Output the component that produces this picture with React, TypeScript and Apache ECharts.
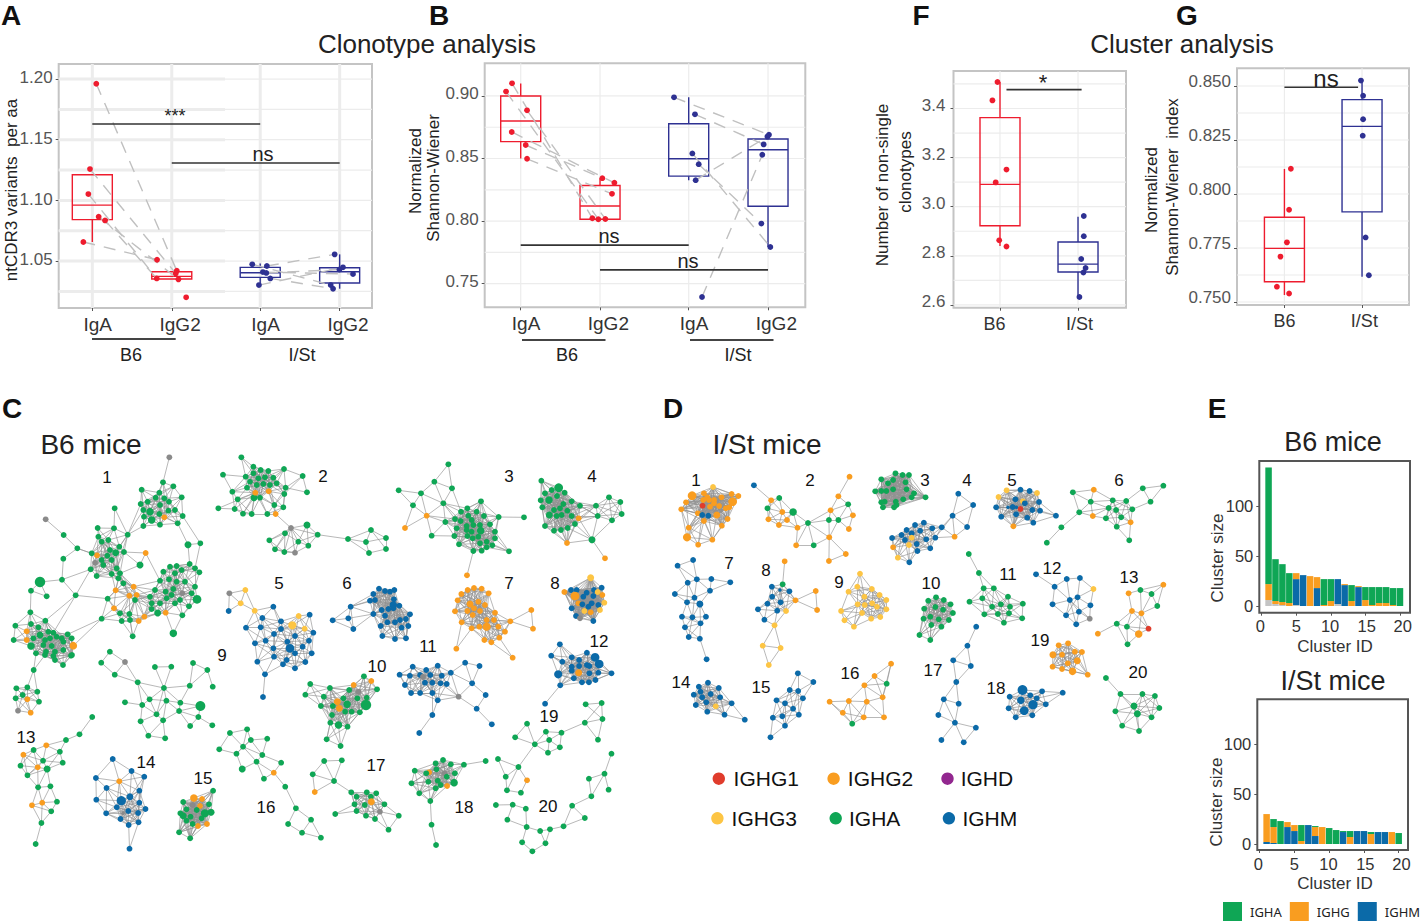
import React, { useEffect, useRef } from "react";
import * as echarts from "echarts";

// ---------- colours ----------
const RED = "#ee1c2e", NAVY = "#2e3192", GREY_DASH = "#c0c0c0", GRIDC = "#ececec";
const COL: Record<string, string> = { a: "#0fa655", o: "#f99d20", y: "#fdc544", m: "#0b6aa8", r: "#e03c2c", x: "#8a8a8a", p: "#92278f" };
const FONT = "Liberation Sans";

// ---------- panel A : ntCDR3 variants per aa ----------
const aXTicks = [1, 2, 3.113, 4.113];
const aXLabelPos = [1.068, 2.105, 3.181, 4.218];
const groupLabels = ["IgA", "IgG2", "IgA", "IgG2"];
const aYTicks = [1.05, 1.1, 1.15, 1.2];
const aYLines = [1.025, 1.05, 1.075, 1.1, 1.125, 1.15, 1.175, 1.2];
const aBoxes = [
  [1, 1.0657, 1.0841, 1.0961, 1.1211, 1.1211],
  [2, 1.0352, 1.0352, 1.0374, 1.0412, 1.0412],
  [3.113, 1.0316, 1.0365, 1.0404, 1.0448, 1.048],
  [4.113, 1.0272, 1.0319, 1.0412, 1.0445, 1.0555],
];
const aB6IgA = [[1.05, 1.1961], [0.971, 1.1258], [0.95, 1.1052], [1.08, 1.0865], [1.16, 1.0835], [0.887, 1.0657]];
const aB6IgG = [[1.815, 1.0511], [2.063, 1.042], [2.05, 1.0398], [1.811, 1.0357], [2.084, 1.0349], [2.181, 1.0201]];
const aIStIgA = [[3.013, 1.0473], [3.197, 1.0459], [3.147, 1.0409], [3.24, 1.0357], [3.097, 1.0302], [3.19, 1.0402]];
const aIStIgG = [[4.05, 1.0555], [4.155, 1.0448], [4.281, 1.0393], [4.0, 1.0302], [4.03, 1.0272], [4.11, 1.043]];
const aPairsB6 = [[0, 1], [1, 2], [2, 3], [3, 4], [4, 3], [5, 0]];
const aPairsISt = [[0, 3], [1, 0], [2, 2], [3, 4], [4, 1], [5, 5]];

// ---------- panel B : normalized Shannon-Wiener (clonotypes) ----------
const bXTicks = [1, 2, 3.118, 4.118];
const bXLabelPos = [1.068, 2.105, 3.186, 4.223];
const bYTicks = [0.75, 0.8, 0.85, 0.9];
const bYLines = [0.75, 0.775, 0.8, 0.825, 0.85, 0.875, 0.9];
const bBoxes = [
  [1, 0.85, 0.8635, 0.88, 0.9, 0.91],
  [2, 0.8015, 0.8015, 0.812, 0.8285, 0.834],
  [3.118, 0.8327, 0.8359, 0.8498, 0.8778, 0.899],
  [4.118, 0.7793, 0.8119, 0.857, 0.8656, 0.869],
];
const bB6IgA = [[0.891, 0.9101], [0.815, 0.9035], [1.08, 0.8885], [0.887, 0.8712], [1.063, 0.8608], [1.08, 0.8498]];
const bB6IgG = [[2.029, 0.8343], [2.181, 0.8306], [2.151, 0.8218], [1.903, 0.8023], [1.979, 0.8015], [2.067, 0.8017]];
const bIStIgA = [[2.933, 0.8989], [3.197, 0.8853], [3.164, 0.8541], [3.244, 0.8455], [3.206, 0.8327], [3.286, 0.7393]];
const bIStIgG = [[4.13, 0.869], [4.11, 0.8675], [4.063, 0.8613], [4.046, 0.853], [4.034, 0.798], [4.147, 0.7793]];
const bPairsB6 = [[0, 3], [1, 4], [2, 5], [3, 1], [4, 0], [5, 2]];
const bPairsISt = [[0, 0], [1, 2], [2, 5], [3, 4], [4, 1], [5, 3]];

// ---------- panel F : number of non-single clonotypes ----------
const fXTicks = [1, 2];
const fXLabelPos = [0.93, 2.02];
const strainLabels = ["B6", "I/St"];
const fYTicks = [2.6, 2.8, 3.0, 3.2, 3.4];
const fYLines = [2.6, 2.7, 2.8, 2.9, 3.0, 3.1, 3.2, 3.3, 3.4, 3.5];
const fBoxes = [[1, 2.84, 2.9226, 3.091, 3.3626, 3.508], [2, 2.633, 2.734, 2.766, 2.856, 2.959]];
const fB6 = [[0.968, 3.508], [0.903, 3.433], [1.083, 3.151], [0.945, 3.099], [0.99, 2.863], [1.083, 2.838]];
const fISt = [[2.074, 2.962], [2.074, 2.88], [2.041, 2.787], [2.097, 2.75], [2.069, 2.732], [2.018, 2.632]];

// ---------- panel G : normalized Shannon-Wiener (clusters) ----------
const gXTicks = [1, 2];
const gXLabelPos = [1, 2.03];
const gYTicks = [0.75, 0.775, 0.8, 0.825, 0.85];
const gYLines = [0.75, 0.7625, 0.775, 0.7875, 0.8, 0.8125, 0.825, 0.8375, 0.85];
const gBoxes = [[1, 0.7532, 0.7594, 0.7748, 0.7892, 0.8116], [2, 0.7617, 0.7917, 0.8313, 0.8437, 0.8525]];
const gB6 = [[1.083, 0.8117], [1.06, 0.7927], [1.032, 0.7776], [0.949, 0.771], [0.903, 0.7571], [1.06, 0.7539]];
const gISt = [[1.986, 0.8525], [2.014, 0.8455], [2.014, 0.8346], [2.009, 0.827], [2.046, 0.7799], [2.088, 0.7624]];

// ---------- panel E : stacked cluster sizes ----------
const clusterIds = [1, 2, 3, 4, 5, 6, 7, 8, 9, 10, 11, 12, 13, 14, 15, 16, 17, 18, 19, 20];
const eXTicks = [0, 5, 10, 15, 20];
const eXLabelPos = [-0.2, 5, 9.9, 15.2, 20.4];
const eYTicks = [0, 50, 100];
const b6Other = [6, 2, 1, 0, 1, 0, 0, 0, 0, 0, 2, 0, 0, 0, 0, 0, 0, 0, 0, 0];
const b6IGHM = [0, 0, 0, 0, 26, 31, 0, 18, 0, 0, 25, 21, 0, 19, 0, 0, 0, 0, 0, 0];
const b6IGHG = [16, 3, 3, 3, 6, 0, 30, 11, 1, 5, 0, 1, 5, 1, 6, 1, 3, 3, 1, 0];
const b6IGHA = [117, 42, 38, 30, 0, 0, 0, 0, 26, 22, 0, 0, 16, 0, 13, 18, 16, 16, 17, 18];
const istIGHM = [2, 1, 0, 17, 13, 0, 19, 8, 0, 0, 0, 12, 0, 13, 13, 0, 12, 12, 0, 0];
const istIGHG = [28, 16, 0, 5, 6, 3, 0, 9, 17, 0, 0, 0, 7, 0, 0, 10, 0, 0, 12, 0];
const istIGHA = [0, 8, 23, 0, 0, 16, 0, 1, 0, 16, 14, 1, 6, 0, 0, 2, 0, 0, 0, 11];

type N = [number, number, string, number?];
// crops: [originX, originY, scaleX, scaleY]
const CROP5 = [0, 390, 3, 3], CROP6 = [330, 440, 3, 3], CROP7 = [0, 650, 2.44, 3], CROP8 = [660, 420, 2.96, 3], CROP9 = [660, 640, 2.96, 3];

const b6c1: N[] = [[508,202,"x"],[137,388,"x"],[489,277,"a"],[425,299,"a"],[520,289,"a"],[478,308,"a"],[545,322,"a"],[443,335,"a"],[467,323,"a"],[493,325,"a"],[422,342,"a"],[507,335,"a"],[480,345,"a"],[430,360,"a"],[450,365,"a",1.3],[505,362,"a"],[525,360,"a"],[548,378,"a"],[455,390,"a",1.3],[478,372,"a"],[432,380,"a"],[493,382,"o"],[430,408,"a"],[480,404,"a"],[533,400,"a"],[344,355,"a"],
[191,435,"a"],[293,414,"a"],[342,415,"a"],[295,440,"a"],[383,434,"a"],[232,475,"a"],[305,455,"a"],[325,450,"a"],[358,470,"a"],[330,480,"a"],[372,486,"a"],[347,488,"a",1.2],[291,496,"o"],[275,490,"a"],[190,506,"a"],[322,497,"a"],[305,510,"a"],[335,510,"a"],[285,518,"x"],[272,538,"a"],[290,558,"a"],[310,525,"a"],[350,535,"a"],[335,552,"a"],[360,550,"a"],[437,489,"o"],[420,525,"a",1.2],
[186,569,"a"],[120,576,"a",1.8],[93,602,"a"],[140,619,"a"],[227,616,"a"],[323,626,"a"],[355,565,"a"],[370,580,"a"],[401,590,"o"],[347,601,"o"],[388,617,"o"],[410,615,"o"],[405,630,"a"],[342,655,"o"],[360,670,"a"],[365,693,"a"],[390,690,"a"],[416,693,"o"],[433,680,"o"],[398,739,"a"],[388,672,"a"],[305,686,"a"],
[564,464,"a",1.2],[601,460,"a"],[569,522,"a"],[530,528,"a"],[510,530,"a"],[490,545,"a"],[545,540,"a"],[585,535,"a"],[598,547,"a"],[525,550,"a"],[507,568,"a"],[480,572,"a"],[530,575,"a"],[555,575,"a"],[585,590,"a"],[520,597,"a"],[497,605,"a"],[465,600,"a"],[515,615,"a"],[500,625,"a"],[450,620,"a"],[575,610,"a"],[547,610,"x"],[591,628,"a",1.5],[455,640,"a"],[480,640,"a"],[525,640,"a"],[567,649,"a"],[540,630,"a"],[455,657,"a"],[473,669,"a",1.2],[497,668,"o"],[547,676,"a"],[520,730,"a",1.3],
[91,667,"a"],[46,707,"a"],[93,702,"a"],[136,692,"a"],[115,712,"a"],[145,725,"a"],[160,728,"a"],[80,724,"o"],[41,750,"a"],[80,750,"o"],[100,745,"a"],[120,735,"a",1.2],[135,750,"a"],[150,745,"a"],[170,740,"a"],[185,745,"a"],[203,733,"a"],[215,745,"a"],[93,768,"a",1.3],[130,765,"a"],[155,768,"a"],[190,755,"a"],[220,767,"o",1.3],[138,785,"a"],[165,785,"a"],[190,780,"a"],[213,797,"a"],[108,790,"a"],[160,798,"a"],[135,795,"a"],[165,810,"a"],[189,825,"a"],[216,795,"a"],
[101,840,"a"],[49,895,"a"],[82,892,"a"],[112,905,"a"],[47,925,"a"],[82,928,"o"],[117,935,"a"],[54,962,"x"],[92,968,"o"],[68,915,"a"]];
const b6c1Bridges = [[508,202,489,277],[137,388,191,435],[191,435,232,475],[232,475,275,490],[190,506,186,569],[186,569,120,576],[186,569,272,538],[120,576,93,602],[120,576,140,619],[93,602,91,667],[227,616,272,538],[227,616,323,626],[227,616,136,692],[323,626,388,617],[305,686,342,655],[305,686,220,767],[305,686,203,733],[342,655,388,617],[344,355,383,434],[383,434,430,360],[383,434,422,342],[372,486,437,489],[437,489,480,572],[420,525,372,486],[564,464,533,400],[601,460,548,378],[564,464,569,522],[601,460,585,535],[450,620,410,615],[465,600,410,615],[398,739,388,672],[520,730,497,668],[520,730,547,676],[383,434,350,535],[430,408,383,434],[91,667,93,702],[342,415,383,434],[293,414,305,455],[360,550,388,617],[335,552,401,590],[350,535,410,615],[388,617,365,693],[405,630,390,690],[405,630,416,693],[410,615,433,680],[405,630,360,670],[480,640,410,615],[497,605,405,630],[480,572,401,590],[136,692,220,767],[91,667,136,692],[227,616,160,728],[272,538,305,510],[272,538,335,510]];
const b6c2: N[] = [[724,202,"a"],[669,254,"a"],[852,237,"a"],[760,230,"a"],[782,240,"a"],[805,243,"a"],[737,260,"a"],[760,250,"a"],[750,275,"a"],[775,265,"a"],[795,262,"a"],[820,263,"a"],[790,282,"a"],[770,285,"a"],[810,285,"a"],[830,280,"a"],[741,293,"a"],[697,305,"a"],[857,293,"a"],[853,312,"a"],[908,258,"a"],[921,307,"a"],[713,328,"a"],[655,355,"a"],[704,357,"a"],[729,371,"a"],[755,372,"a"],[802,372,"a"],[823,345,"a"],[850,352,"a"],[762,323,"a",1.2],[780,323,"a"],[766,308,"o"],[806,304,"o"],[827,372,"o"],[855,430,"a"],[808,451,"a"],[921,405,"a",1.2],[895,455,"a"],[925,467,"a"],[953,434,"a"],[825,478,"a"],[853,486,"a"],[873,414,"x"],[885,488,"x"],[1044,447,"a"],[1113,420,"a"],[1158,444,"a"],[1098,456,"a"],[1158,477,"a"],[1107,489,"a"]];
const b6c2Bridges = [[873,414,827,372],[953,434,1044,447],[853,312,908,258],[857,293,921,307],[873,414,855,430],[873,414,808,451],[873,414,921,405],[873,414,895,455],[873,414,925,467],[873,414,953,434],[873,414,825,478],[873,414,853,486],[873,414,885,488],[855,430,825,478],[855,430,853,486],[855,430,808,451],[766,308,697,305],[766,308,713,328],[766,308,655,355],[766,308,704,357],[766,308,729,371],[766,308,755,372],[766,308,741,293],[766,308,802,372],[766,308,823,345],[806,304,850,352],[806,304,827,372],[1044,447,1113,420],[1044,447,1098,456],[1044,447,1107,489],[1113,420,1158,477],[1098,456,1158,444],[724,202,760,250],[669,254,737,260],[852,237,810,285],[908,258,921,307]];
const b6c3: N[] = [[355,73,"a"],[313,125,"a"],[366,145,"a"],[206,151,"a"],[273,160,"a"],[249,196,"a"],[340,190,"a"],[290,227,"o"],[225,264,"o"],[346,246,"a"],[305,287,"a"],[453,184,"a"],[375,237,"a"],[393,215,"a"],[412,205,"a"],[440,215,"a"],[462,228,"a"],[392,243,"a"],[415,227,"a"],[380,265,"a"],[410,258,"a"],[430,255,"a"],[450,255,"a"],[480,253,"a"],[452,272,"a",1.3],[425,275,"a"],[495,275,"a"],[373,288,"a"],[412,288,"a"],[428,295,"a"],[445,290,"a"],[495,295,"a"],[470,305,"a"],[387,313,"a"],[430,333,"a"],[455,332,"a"],[470,322,"a"],[487,316,"a"],[537,334,"a"],[506,231,"a"],[582,232,"a"],[411,406,"o"],[450,310,"a"],[425,240,"a"],[410,270,"a"]];
const b6c3Bridges = [[355,73,366,145],[313,125,340,190],[366,145,393,215],[206,151,273,160],[273,160,340,190],[249,196,290,227],[273,160,249,196],[340,190,393,215],[290,227,375,237],[290,227,225,264],[346,246,305,287],[346,246,375,237],[506,231,462,228],[506,231,582,232],[430,333,411,406],[537,334,487,316],[537,334,470,305],[453,184,393,215]];
const b6c4: N[] = [[634,122,"a"],[686,143,"a",1.5],[645,160,"a"],[665,150,"a"],[704,158,"a"],[632,181,"a"],[657,180,"a",1.3],[681,168,"a"],[700,192,"a"],[725,184,"a"],[637,202,"a"],[672,210,"a"],[690,205,"a"],[712,212,"a"],[750,197,"a"],[658,225,"a",1.2],[680,228,"a"],[695,225,"a"],[725,228,"a"],[645,258,"a"],[672,272,"a"],[693,270,"a"],[713,264,"a"],[735,252,"a"],[746,235,"o"],[711,309,"o"],[786,299,"a",1.2],[825,355,"o"],[798,197,"a"],[803,228,"a"],[846,241,"a"],[875,222,"a"],[871,186,"a"],[837,172,"a"]];
const b6c4Bridges = [[746,235,786,299],[786,299,825,355],[746,235,798,197],[746,235,803,228],[725,184,798,197],[711,309,672,272],[711,309,735,252]];
const b6c5: N[] = [[688,610,"x"],[736,600,"y"],[722,640,"y"],[686,663,"m"],[764,662,"y"],[820,650,"m"],[787,684,"m"],[843,694,"m"],[896,678,"y"],[929,674,"m"],[738,713,"m"],[782,712,"m"],[877,706,"y",1.4],[914,716,"y"],[843,717,"m"],[940,728,"m"],[822,732,"m"],[885,738,"m"],[862,755,"m"],[927,752,"m"],[797,752,"m"],[765,760,"m"],[870,775,"m",1.5],[908,770,"m"],[820,775,"m"],[935,790,"m"],[885,790,"m"],[822,800,"m"],[860,810,"m"],[772,815,"m"],[795,853,"m"],[789,921,"m"],[885,835,"m"],[916,816,"m"],[849,823,"m"]];
const b6c5Bridges = [[688,610,722,640],[686,663,722,640],[764,662,820,650],[764,662,787,684],[736,600,764,662],[738,713,787,684]];
const b6c6: N[] = [[147,446,"m"],[130,462,"m"],[165,453,"m"],[180,455,"m"],[193,450,"m"],[120,482,"m"],[135,480,"m"],[192,478,"m"],[190,495,"m",1.3],[208,497,"m"],[155,510,"m"],[175,507,"m"],[190,505,"m"],[130,522,"m"],[240,523,"m"],[165,527,"m"],[172,547,"m"],[195,547,"m"],[210,540,"m"],[228,537,"m"],[152,558,"m"],[235,558,"m"],[215,563,"m"],[157,588,"m"],[195,597,"m"],[228,595,"m"],[62,500,"m"],[55,535,"m"],[8,541,"m"],[70,567,"m"]];
const b6c6Bridges = [[62,500,130,522],[70,567,130,522],[62,500,120,482],[8,541,62,500],[8,541,70,567],[62,500,70,567]];
const b6c7: N[] = [[413,450,"o"],[432,444,"o"],[455,446,"o"],[394,462,"o"],[476,460,"o"],[383,481,"o"],[420,492,"o",1.2],[445,485,"o"],[465,495,"o"],[375,514,"o"],[412,513,"o"],[432,505,"o"],[450,513,"o"],[428,525,"o"],[495,518,"o"],[395,547,"o"],[470,540,"o"],[492,540,"o"],[448,560,"o"],[470,560,"o",1.4],[425,565,"o"],[505,560,"o"],[525,575,"o"],[463,600,"o"],[484,607,"o"],[508,593,"o"],[541,544,"o"],[604,510,"o"],[609,566,"o"],[379,626,"o"],[548,653,"o"]];
const b6c7Bridges = [[541,544,604,510],[541,544,609,566],[379,626,425,565],[548,653,508,593],[395,547,412,513]];
const b6c8: N[] = [[782,413,"y",1.2],[723,450,"m"],[740,450,"m"],[703,456,"o"],[770,458,"m"],[792,450,"m"],[815,443,"m"],[760,470,"m"],[790,468,"m"],[803,456,"y"],[817,465,"o"],[735,468,"o",1.5],[745,490,"o"],[785,490,"m"],[805,495,"m"],[823,488,"y"],[757,493,"m"],[775,500,"m"],[725,505,"m"],[763,513,"y"],[782,517,"o"],[738,528,"m"],[790,543,"m"],[750,535,"x"],[810,510,"y"]];
const b6c9: N[] = [[268,5,"a"],[247,38,"a"],[305,36,"x"],[280,74,"a"],[336,97,"a"],[378,51,"a"],[418,50,"a"],[471,39,"a"],[506,60,"a"],[400,114,"a"],[463,107,"a"],[519,110,"a"],[305,157,"a"],[347,165,"a"],[365,148,"a"],[406,152,"a"],[440,158,"a"],[437,183,"a"],[382,193,"a"],[489,168,"a",1.7],[484,201,"a"],[398,211,"a"],[343,214,"a"],[464,228,"a"],[518,226,"a"],[362,257,"a"],[403,265,"a"]];
const b6c9Bridges = [[336,97,400,114],[400,114,463,107],[378,51,400,114],[418,50,400,114],[471,39,463,107],[506,60,463,107],[305,36,336,97],[280,74,336,97],[400,114,382,193],[463,107,440,158],[336,97,347,165],[305,157,347,165],[347,165,382,193],[406,152,382,193],[437,183,489,168],[382,193,343,214],[398,211,362,257],[398,211,403,265]];
const b6c10: N[] = [[888,79,"a"],[906,93,"o"],[863,105,"o"],[757,102,"a"],[805,114,"a"],[920,118,"a"],[852,120,"a"],[875,125,"x"],[745,134,"a"],[790,140,"a"],[838,145,"a"],[872,145,"a"],[895,143,"a"],[823,155,"o",1.2],[847,163,"a",1.3],[893,165,"a",1.8],[783,168,"a"],[812,168,"a"],[828,175,"o",1.2],[858,185,"a"],[878,187,"a"],[842,185,"a"],[806,218,"a"],[826,225,"a",1.3],[848,230,"a"],[797,268,"a"],[831,288,"a"],[810,195,"a"]];
const b6c11: N[] = [[1007,50,"m"],[1040,60,"m"],[1068,47,"m"],[1100,68,"m"],[1135,38,"m"],[1170,48,"m"],[975,74,"m"],[1000,77,"m"],[1025,75,"m"],[1050,75,"m"],[1078,77,"m"],[1032,80,"x"],[988,105,"m"],[1037,98,"m"],[1055,98,"m"],[1075,100,"m"],[1090,102,"m"],[1152,100,"m"],[1003,129,"m"],[1025,129,"m"],[1055,129,"m"],[1068,151,"m"],[1119,140,"x"],[1185,135,"m"],[1163,176,"m"],[1055,195,"m"],[1023,249,"m"],[1200,223,"m"]];
const b6c11Bridges = [[1068,151,1055,195],[1055,195,1023,249],[1119,140,1163,176],[1163,176,1200,223],[1119,140,1055,129],[1100,68,1119,140],[1135,38,1170,48],[1135,38,1100,68]];
const b6c12: N[] = [[1366,-17,"m"],[1345,17,"m"],[1395,22,"m"],[1432,8,"m"],[1452,22,"m",1.5],[1413,30,"m"],[1432,45,"m"],[1462,42,"m",1.5],[1372,35,"m"],[1395,50,"m"],[1413,48,"m"],[1438,48,"m"],[1362,73,"m",1.4],[1395,62,"m"],[1412,68,"o",1.2],[1438,70,"m"],[1460,68,"m"],[1492,70,"m"],[1400,85,"m"],[1420,97,"m"],[1437,97,"m"],[1453,90,"m"],[1367,106,"m"],[1330,161,"m"]];
const b6c13: N[] = [[225,201,"a"],[194,253,"a"],[161,270,"a"],[113,286,"o"],[57,314,"o"],[82,300,"a"],[146,305,"a"],[105,332,"a"],[153,338,"a"],[50,347,"a"],[92,352,"o"],[115,357,"a",1.2],[67,376,"a"],[93,412,"a"],[123,409,"a"],[78,466,"o"],[103,458,"o"],[139,455,"a"],[125,484,"a"],[101,519,"a"],[87,582,"a"]];
const b6c13Bridges = [[225,201,194,253],[194,253,161,270],[161,270,146,305],[115,357,93,412],[115,357,123,409],[101,519,87,582]];
const b6c14: N[] = [[275,327,"m"],[321,363,"m"],[352,380,"m"],[291,394,"o"],[234,384,"m"],[260,414,"m"],[340,422,"m"],[235,449,"m"],[296,452,"m",1.6],[317,440,"m",1.2],[340,458,"m"],[355,477,"m"],[285,472,"m"],[313,483,"m"],[337,489,"m"],[259,490,"m"],[294,507,"m"],[314,525,"m"],[338,517,"m"],[316,596,"m"],[300,490,"x",0.6]];
const b6c14Bridges = [[275,327,291,394],[234,384,291,394],[291,394,321,363],[291,394,352,380],[291,394,296,452],[234,384,235,449],[314,525,316,596],[340,422,317,440]];
const b6c15: N[] = [[520,422,"a"],[473,444,"o",1.3],[493,447,"o"],[447,456,"a"],[510,463,"a"],[488,468,"o"],[470,465,"x"],[455,478,"a"],[447,497,"a",1.2],[480,480,"a"],[515,487,"a",1.2],[500,490,"a",1.4],[465,500,"a"],[440,490,"a"],[492,505,"a"],[505,522,"o"],[483,528,"o"],[455,512,"a"],[470,522,"a"],[437,547,"a"],[464,565,"a"]];
const b6c16: N[] = [[561,249,"a"],[603,238,"a"],[652,266,"a"],[612,270,"a"],[593,290,"a"],[535,298,"a"],[577,311,"a"],[640,315,"a"],[626,335,"a"],[686,338,"a"],[591,357,"a",1.2],[668,368,"o"],[644,386,"a"],[696,410,"a"],[722,475,"a"],[703,522,"a"],[759,509,"a"],[737,548,"a"],[783,563,"a"]];
const b6c16Bridges = [[696,410,722,475],[722,475,703,522],[722,475,759,509],[668,368,696,410]];
const b6c17: N[] = [[791,333,"a"],[834,331,"a"],[763,373,"a"],[815,393,"a"],[768,426,"o"],[857,427,"a"],[895,427,"a"],[918,430,"a"],[818,492,"a"],[870,440,"a"],[905,440,"a"],[865,463,"a"],[890,465,"a"],[906,455,"o",1.2],[938,463,"a"],[870,483,"a"],[893,497,"a"],[927,485,"x"],[915,507,"a"],[973,497,"a"],[948,539,"a"]];
const b6c17Bridges = [[791,333,815,393],[834,331,815,393],[763,373,815,393],[815,393,768,426],[815,393,857,427],[818,492,865,463],[973,497,927,485],[948,539,915,507]];
const b6c18: N[] = [[1185,333,"a"],[1132,344,"a"],[1081,330,"a"],[1063,340,"a"],[1100,343,"a"],[1012,362,"a"],[1047,367,"o"],[1065,358,"a"],[1085,370,"x"],[1110,370,"a"],[1045,395,"a"],[1068,392,"a"],[1090,380,"a"],[1108,398,"a",1.3],[1004,400,"a"],[1063,415,"a"],[1091,408,"o"],[1023,430,"a"],[1050,453,"a"],[1053,524,"a"],[1064,585,"a"],[1040,370,"a"],[1075,405,"a"]];
const b6c18Bridges = [[1185,333,1132,344],[1050,453,1053,524],[1053,524,1064,585],[1045,395,1050,453]];
const b6c19: N[] = [[1429,163,"a"],[1468,159,"a"],[1470,207,"a"],[1427,218,"a"],[1459,269,"a"],[1286,221,"a"],[1257,262,"a"],[1332,245,"a"],[1370,248,"a"],[1305,283,"a"],[1337,308,"a"],[1366,292,"a"],[1215,327,"a"],[1265,351,"a"],[1234,380,"a"],[1286,391,"o"],[1237,421,"a"],[1271,428,"a"],[1340,270,"a"]];
const b6c19Bridges = [[1370,248,1427,218],[1305,283,1265,351],[1286,221,1305,283],[1257,262,1305,283],[1427,218,1459,269],[1215,327,1265,351],[1429,163,1470,207],[1468,159,1427,218],[1265,351,1286,391],[1265,351,1237,421]];
const b6c20: N[] = [[1492,311,"a"],[1475,371,"a"],[1437,386,"a"],[1485,419,"a"],[1443,439,"a"],[1396,467,"a"],[1427,504,"a"],[1375,529,"a"],[1342,538,"a"],[1318,543,"a"],[1285,531,"a"],[1274,577,"a"],[1331,580,"a"],[1299,604,"a"],[1210,465,"a"],[1251,464,"a"],[1238,509,"a"],[1283,476,"a"]];
const b6c20Bridges = [[1492,311,1475,371],[1443,439,1396,467],[1443,439,1475,371],[1396,467,1427,504],[1427,504,1375,529],[1396,467,1375,529],[1375,529,1342,538],[1285,531,1318,543],[1285,531,1238,509],[1285,531,1283,476]];

const isc1: N[] = [[157,201,"y"],[130,220,"o"],[95,227,"o",1.5],[212,222,"o"],[232,228,"o"],[77,247,"o"],[140,232,"o"],[160,240,"o"],[182,232,"o"],[215,245,"o",1.5],[126,257,"r"],[148,260,"o"],[160,250,"o"],[63,268,"o"],[112,280,"o"],[125,285,"m"],[143,287,"m"],[168,285,"o",1.2],[195,265,"o"],[205,262,"o"],[200,297,"o"],[183,317,"o"],[130,303,"o"],[85,323,"o"],[80,352,"o",1.4],[113,374,"o"],[155,359,"o"],[175,258,"o"],[128,240,"o"],[145,240,"o"]];
const isc1Bridges = [[130,303,85,323],[130,303,155,359],[130,303,113,374],[85,323,155,359],[85,323,113,374]];
const isc2: N[] = [[278,196,"m"],[329,241,"o"],[353,234,"a"],[318,265,"a"],[362,276,"o"],[394,276,"a",1.3],[321,298,"o"],[376,300,"o"],[352,315,"o"],[407,323,"o"],[438,309,"a"],[561,170,"o"],[528,229,"o"],[505,271,"o"],[557,253,"a"],[571,286,"o"],[500,300,"a"],[528,300,"a"],[559,327,"o"],[501,352,"o"],[403,376,"o"],[455,376,"a"],[550,402,"o"],[500,423,"o"]];
const isc2Bridges = [[278,196,329,241],[438,309,394,276],[438,309,500,300],[438,309,403,376],[438,309,455,376],[438,309,501,352],[438,309,505,271],[561,170,528,229],[528,229,505,271],[500,300,501,352],[501,352,550,402],[501,352,500,423],[403,376,455,376],[550,402,500,423],[528,300,501,352]];
const isc3: N[] = [[697,160,"a"],[718,165,"a"],[737,165,"a"],[655,178,"a"],[690,180,"a"],[675,190,"a"],[727,187,"a"],[637,214,"a"],[655,213,"a"],[670,213,"a"],[690,208,"a"],[730,208,"a"],[665,245,"a"],[655,247,"a"],[698,245,"a"],[720,238,"a"],[752,220,"a"],[745,232,"a"],[660,262,"a"],[693,262,"a"],[700,255,"a"],[786,232,"a"]];
const isc4: N[] = [[883,221,"m"],[927,255,"m"],[866,287,"m"],[909,321,"m"],[872,350,"o"],[781,308,"m"],[755,315,"m"],[834,322,"m"],[730,330,"m"],[770,332,"m"],[806,325,"m"],[745,340,"m"],[687,354,"m"],[815,353,"m"],[745,353,"y"],[788,358,"m"],[725,360,"m"],[760,372,"m"],[800,385,"m"],[690,382,"o"],[737,375,"y"],[762,393,"m"],[704,413,"y"],[738,427,"m"],[715,345,"m"]];
const isc4Bridges = [[883,221,866,287],[883,221,927,255],[927,255,866,287],[866,287,909,321],[866,287,872,350],[866,287,834,322],[866,287,815,353],[834,322,872,350]];
const isc5: N[] = [[1026,211,"y"],[1067,209,"m"],[1094,213,"m"],[1116,219,"y"],[1002,231,"y"],[1052,238,"m"],[1074,244,"y"],[1122,246,"m"],[1044,261,"m"],[995,262,"m"],[1067,267,"r"],[1080,250,"m"],[1102,270,"m"],[1125,272,"m"],[1010,290,"m"],[1054,283,"m"],[1087,293,"m"],[1172,287,"m"],[1105,308,"m"],[1046,319,"o"],[1030,262,"m",0.6],[1055,262,"m",0.6]];
const isc5Bridges = [[1172,287,1122,246],[1172,287,1105,308]];
const isc6: N[] = [[1222,217,"a"],[1284,209,"o"],[1429,205,"a"],[1490,197,"a"],[1275,245,"a"],[1340,241,"a"],[1380,243,"a"],[1452,245,"a"],[1241,277,"a"],[1328,264,"a"],[1398,268,"a"],[1281,288,"o"],[1320,295,"a"],[1365,292,"a"],[1393,307,"o"],[1352,320,"a"],[1389,361,"a"],[1188,322,"a"],[1145,368,"a"],[1350,270,"a"]];
const isc6Bridges = [[1145,368,1188,322],[1188,322,1241,277],[1222,217,1284,209],[1222,217,1241,277],[1284,209,1340,241],[1429,205,1490,197],[1490,197,1452,245],[1429,205,1380,243],[1452,245,1398,268],[1393,307,1389,361],[1241,277,1328,264]];
const isc7: N[] = [[98,420,"m"],[52,437,"m"],[82,488,"m"],[109,478,"m"],[152,477,"m"],[208,487,"m"],[148,512,"m"],[44,522,"m"],[102,533,"m"],[80,547,"m"],[118,552,"m",1.2],[65,590,"m"],[96,592,"m"],[136,590,"m"],[74,622,"m"],[120,610,"m"],[85,651,"m"],[118,656,"m"],[138,718,"m"]];
const isc7Bridges = [[98,420,109,478],[52,437,82,488],[52,437,109,478],[109,478,152,477],[152,477,208,487],[148,512,208,487],[44,522,102,533],[82,488,102,533],[109,478,102,533],[148,512,102,533],[118,656,138,718],[120,610,118,656]];
const isc8: N[] = [[369,424,"o"],[363,493,"a"],[331,500,"m"],[383,514,"m"],[332,530,"m"],[357,547,"m"],[318,551,"m"],[290,568,"m"],[347,572,"m"],[309,599,"m"],[373,573,"y"],[401,541,"o"],[461,513,"o"],[465,570,"o"],[339,616,"y"],[304,677,"y"],[357,684,"y"],[322,735,"y"],[355,510,"m",0.6]];
const isc8Bridges = [[369,424,363,493],[401,541,461,513],[401,541,465,570],[461,513,465,570],[339,616,304,677],[339,616,357,684],[304,677,322,735],[357,684,322,735],[304,677,357,684]];
const isc9: N[] = [[592,461,"y"],[584,500,"y"],[558,515,"y"],[605,530,"y"],[627,507,"y"],[650,525,"y"],[670,540,"y"],[585,553,"y"],[606,555,"y"],[628,550,"y"],[642,560,"y"],[670,568,"y"],[536,573,"y"],[598,579,"y"],[546,601,"y"],[574,620,"y"],[625,596,"y"],[652,591,"y"]];
const isc10: N[] = [[817,532,"a"],[794,542,"a"],[840,540,"a"],[860,553,"a"],[782,566,"a"],[815,561,"a"],[838,569,"a"],[867,579,"a"],[780,596,"a"],[800,590,"a"],[825,598,"a"],[855,600,"a"],[803,615,"a"],[833,620,"a"],[768,645,"a"],[800,660,"a"]];
const isc11: N[] = [[914,402,"a"],[944,459,"a"],[958,505,"a"],[988,505,"a"],[954,535,"a"],[916,545,"a"],[1030,530,"a"],[983,560,"a"],[1009,553,"a"],[1036,560,"a"],[1074,551,"a"],[960,583,"a"],[1000,582,"a"],[1033,580,"a"],[1072,595,"a"],[1018,608,"a"]];
const isc12: N[] = [[1113,463,"m"],[1168,500,"m"],[1204,477,"m"],[1243,474,"m"],[1283,507,"y"],[1213,540,"m"],[1236,532,"m"],[1162,553,"m"],[1274,556,"m"],[1202,586,"m"],[1240,575,"m"],[1272,596,"x"],[1232,613,"m"]];
const isc12Bridges = [[1168,500,1213,540],[1204,477,1213,540],[1243,474,1236,532],[1283,507,1236,532],[1243,474,1283,507],[1162,553,1213,540],[1213,540,1272,596],[1236,532,1274,556],[1213,540,1232,613],[1236,532,1202,586]];
const isc13: N[] = [[1490,494,"o"],[1387,520,"o"],[1422,510,"a"],[1455,522,"a"],[1472,558,"a"],[1397,573,"o"],[1425,580,"o"],[1352,611,"a"],[1382,620,"a"],[1446,626,"r"],[1417,642,"o",1.3],[1296,641,"o"],[1384,673,"a"]];
const isc13Bridges = [[1387,520,1397,573],[1422,510,1425,580],[1472,558,1425,580],[1397,573,1352,611],[1417,642,1384,673],[1352,611,1384,673],[1387,520,1422,510],[1490,494,1422,510],[1490,494,1472,558],[1352,611,1296,641],[1397,573,1446,626],[1425,580,1446,626]];
const isc14: N[] = [[142,128,"m"],[115,140,"m"],[174,144,"m"],[100,164,"m"],[150,162,"m"],[178,172,"m"],[125,172,"m"],[137,187,"m"],[212,190,"m"],[165,199,"y"],[106,195,"m"],[140,215,"m"],[191,224,"m"],[251,239,"m"],[120,155,"m"]];
const isc15: N[] = [[408,100,"m"],[454,126,"m"],[384,150,"m"],[409,153,"m"],[423,175,"m"],[345,181,"m"],[370,190,"m"],[394,206,"m"],[334,233,"m"],[362,229,"m"],[411,224,"m"],[370,257,"m"],[327,292,"m"]];
const isc16: N[] = [[684,71,"o"],[635,108,"o"],[605,136,"o"],[671,131,"a"],[659,172,"o"],[612,185,"o"],[502,185,"o"],[559,183,"o"],[541,218,"o"],[603,232,"o"],[569,251,"a"],[663,232,"o"]];
const isc16Bridges = [[502,185,559,183],[502,185,541,218],[502,185,569,251],[612,185,663,232],[612,185,569,251],[684,71,635,108],[684,71,659,172]];
const isc17: N[] = [[936,-40,"m"],[910,17,"m"],[868,61,"m"],[920,78,"m"],[877,126,"m"],[840,178,"m"],[884,191,"m"],[824,225,"m"],[873,248,"m"],[935,263,"m"],[833,300,"m"],[899,307,"m"]];
const isc17Bridges = [[936,-40,910,17],[910,17,868,61],[910,17,920,78],[868,61,920,78],[868,61,877,126],[920,78,877,126],[877,126,840,178],[877,126,884,191],[840,178,884,191],[840,178,824,225],[840,178,873,248],[884,191,873,248],[824,225,873,248],[873,248,935,263],[873,248,899,307],[873,248,833,300],[935,263,899,307]];
const isc18: N[] = [[1073,150,"m",1.7],[1096,166,"m"],[1131,154,"m"],[1192,158,"m"],[1035,170,"m"],[1068,181,"m",1.3],[1115,175,"m"],[1142,193,"m"],[1104,194,"m",1.6],[1032,205,"m"],[1078,212,"m",1.5],[1053,232,"m"],[1102,226,"m"]];
const isc18Bridges = [[1131,154,1192,158],[1142,193,1192,158]];
const isc19: N[] = [[1180,16,"o"],[1208,10,"o"],[1228,35,"o"],[1249,36,"o"],[1163,44,"o",1.2],[1190,44,"o"],[1235,62,"o",1.2],[1207,70,"o"],[1162,80,"o"],[1190,87,"o"],[1221,94,"o",1.3],[1266,104,"o"]];
const isc20: N[] = [[1320,114,"a"],[1363,162,"a"],[1428,162,"a"],[1465,168,"a"],[1478,204,"a"],[1403,198,"a",1.2],[1348,214,"a"],[1413,221,"a",1.2],[1455,232,"a"],[1368,257,"a"],[1418,273,"a"]];
const isc20Bridges = [[1320,114,1363,162],[1363,162,1403,198],[1403,198,1348,214],[1403,198,1368,257],[1413,221,1368,257],[1413,221,1418,273]];

const b6Labels: [string, number, number][] = [["1",107,477],["2",323,476],["3",509,476],["4",592,476],["5",279,583],["6",347,583],["7",509,583],["8",555,583],["9",222,655],["10",377,666],["11",428,646],["12",599,641],["13",26,737],["14",146,762],["15",203,778],["16",266,807],["17",376,765],["18",464,807],["19",549,716],["20",548,806]];
const istLabels: [string, number, number][] = [["1",696,480],["2",810,480],["3",925,480],["4",967,480],["5",1012,480],["6",1119,480],["7",729,563],["8",766,570],["9",839,582],["10",931,583],["11",1008,574],["12",1052,568],["13",1129,577],["14",681,682],["15",761,687],["16",850,673],["17",933,670],["18",996,688],["19",1040,640],["20",1138,672]];

// [nodes, crop, link distance (px), bridges]
type Cl = [N[], number[], number, number[][]?];
const b6Clusters: Cl[] = [
  [b6c1, CROP5, 22, b6c1Bridges], [b6c2, CROP5, 21, b6c2Bridges], [b6c3, CROP6, 25, b6c3Bridges], [b6c4, CROP6, 30, b6c4Bridges],
  [b6c5, CROP5, 24, b6c5Bridges], [b6c6, CROP6, 26, b6c6Bridges], [b6c7, CROP6, 27, b6c7Bridges], [b6c8, CROP6, 40],
  [b6c9, CROP7, 22, b6c9Bridges], [b6c10, CROP7, 29], [b6c11, CROP7, 24, b6c11Bridges], [b6c12, CROP7, 26],
  [b6c13, CROP7, 22, b6c13Bridges], [b6c14, CROP7, 28, b6c14Bridges], [b6c15, CROP7, 30], [b6c16, CROP7, 21, b6c16Bridges],
  [b6c17, CROP7, 24, b6c17Bridges], [b6c18, CROP7, 27, b6c18Bridges], [b6c19, CROP7, 18, b6c19Bridges], [b6c20, CROP7, 18, b6c20Bridges],
];
const istClusters: Cl[] = [
  [isc1, CROP8, 30, isc1Bridges], [isc2, CROP8, 21, isc2Bridges], [isc3, CROP8, 40], [isc4, CROP8, 23, isc4Bridges],
  [isc5, CROP8, 28, isc5Bridges], [isc6, CROP8, 22, isc6Bridges], [isc7, CROP8, 21, isc7Bridges], [isc8, CROP8, 22, isc8Bridges],
  [isc9, CROP8, 25], [isc10, CROP8, 30], [isc11, CROP8, 25], [isc12, CROP8, 18, isc12Bridges],
  [isc13, CROP8, 22, isc13Bridges], [isc14, CROP9, 30], [isc15, CROP9, 24], [isc16, CROP9, 24, isc16Bridges],
  [isc17, CROP9, 10, isc17Bridges], [isc18, CROP9, 28, isc18Bridges], [isc19, CROP9, 32], [isc20, CROP9, 27, isc20Bridges],
];

const legendRow: [string, string, number, number, number, number][] = [
  ["IGHG1", "r", 718.8, 778.7, 733.6, 778],
  ["IGHG2", "o", 833.6, 778.7, 847.8, 778],
  ["IGHD", "p", 947.5, 778.7, 960.7, 778],
  ["IGHG3", "y", 717.4, 818.3, 731.6, 818],
  ["IGHA", "a", 835.7, 818.3, 849, 818],
  ["IGHM", "m", 948.9, 818.3, 962.4, 818],
];

// ---------- helpers ----------
function buildNetwork(clusters: Cl[]) {
  const data: any[] = [];
  const links: any[] = [];
  for (const [nodes, crop, t, bridges] of clusters) {
    const base = data.length;
    const [ox, oy, sx, sy] = crop;
    const pts = nodes.map((n) => [ox + n[0] / sx, oy + n[1] / sy]);
    nodes.forEach((n, i) => {
      data.push({ value: pts[i], symbolSize: 5.8 * (n[3] ?? 1), itemStyle: { color: COL[n[2]] } });
    });
    const seen = new Set<string>();
    const add = (a: number, b: number) => {
      if (a === b) return;
      const k = a < b ? `${a}-${b}` : `${b}-${a}`;
      if (seen.has(k)) return;
      seen.add(k);
      links.push({ source: base + a, target: base + b });
    };
    const dist = (a: number[], b: number[]) => Math.hypot(a[0] - b[0], a[1] - b[1]);
    pts.forEach((p, i) => {
      let best = -1, bd = 1e9;
      pts.forEach((q, j) => {
        if (i === j) return;
        const d = dist(p, q);
        if (d < t) add(i, j);
        if (d < bd) { bd = d; best = j; }
      });
      if (best >= 0) add(i, best);
    });
    const nearest = (x: number, y: number) => {
      let best = 0, bd = 1e9;
      nodes.forEach((n, i) => {
        const d = Math.hypot(n[0] - x, n[1] - y);
        if (d < bd) { bd = d; best = i; }
      });
      return best;
    };
    (bridges ?? []).forEach((b) => add(nearest(b[0], b[1]), nearest(b[2], b[3])));
  }
  return { data, links };
}

const txt = (text: string, x: number, y: number, fontSize: number, opts: any = {}) => ({
  type: "text",
  x,
  y,
  rotation: opts.rot ? Math.PI / 2 : 0,
  silent: true,
  z: 20,
  style: {
    text,
    fill: opts.fill ?? "#222",
    fontSize,
    fontFamily: opts.family ?? FONT,
    fontWeight: opts.weight ?? "normal",
    align: opts.align ?? "center",
    verticalAlign: "middle",
  },
});
const rule = (x1: number, y1: number, x2: number, y2: number) => ({
  type: "line",
  silent: true,
  z: 20,
  shape: { x1, y1, x2, y2 },
  style: { stroke: "#444", lineWidth: 2 },
});

function panelAxes(i: number, xMin: number, xMax: number, yMin: number, yMax: number, xTicks: number[], xPos: number[], xNames: string[], yTicks: number[], digits: number, labelSize: number, yShift = 0, yMargin = 6) {
  return {
    x: {
      type: "value", gridIndex: i, min: xMin, max: xMax,
      axisLine: { show: false, onZero: false },
      axisTick: { show: true, length: 3, customValues: xTicks, lineStyle: { color: "#555" } },
      axisLabel: {
        customValues: xPos, margin: 7, fontSize: labelSize, fontFamily: FONT, color: "#333",
        formatter: (v: number) => xNames[xPos.indexOf(v)] ?? "",
      },
      splitLine: { show: false },
    },
    y: {
      type: "value", gridIndex: i, min: yMin, max: yMax,
      axisLine: { show: false, onZero: false },
      axisTick: { show: true, length: 3, customValues: yTicks, lineStyle: { color: "#555" } },
      axisLabel: {
        customValues: yTicks.map((t) => t + yShift), margin: yMargin, fontSize: 17, fontFamily: FONT, color: "#555",
        formatter: (v: number) => (v - yShift).toFixed(digits),
      },
      splitLine: { show: false },
    },
  };
}

function gridLines(i: number, yLines: number[], xLines: number[], vWidth: number, thickTo?: number) {
  return {
    type: "custom", xAxisIndex: i, yAxisIndex: i, silent: true, z: 1, clip: false,
    data: [[xLines[0], yLines[0]]],
    renderItem: (p: any, api: any) => {
      const children: any[] = [];
      const cs = p.coordSys;
      for (const y of yLines) {
        const py = api.coord([xLines[0], y])[1];
        children.push({ type: "line", shape: { x1: cs.x, y1: py, x2: cs.x + cs.width, y2: py }, style: { stroke: GRIDC, lineWidth: 1.2 } });
        if (thickTo) {
          const px = api.coord([thickTo, y])[0];
          children.push({ type: "line", shape: { x1: cs.x, y1: py, x2: px, y2: py }, style: { stroke: GRIDC, lineWidth: 3 } });
        }
      }
      for (const x of xLines) {
        const px = api.coord([x, yLines[0]])[0];
        children.push({ type: "line", shape: { x1: px, y1: cs.y, x2: px, y2: cs.y + cs.height }, style: { stroke: GRIDC, lineWidth: vWidth } });
      }
      return { type: "group", children };
    },
  };
}

function boxSeries(i: number, boxes: number[][], colors: string[], w: number) {
  return {
    type: "custom", xAxisIndex: i, yAxisIndex: i, silent: true, z: 3, clip: false,
    encode: { x: 0, y: [1, 2, 3, 4, 5] },
    data: boxes,
    renderItem: (p: any, api: any) => {
      const x = api.value(0);
      const c = colors[p.dataIndex];
      const [px, lo] = api.coord([x, api.value(1)]);
      const q1 = api.coord([x, api.value(2)])[1];
      const med = api.coord([x, api.value(3)])[1];
      const q3 = api.coord([x, api.value(4)])[1];
      const hi = api.coord([x, api.value(5)])[1];
      const st = { stroke: c, lineWidth: 1.4, fill: "none" };
      return {
        type: "group",
        children: [
          { type: "line", shape: { x1: px, y1: lo, x2: px, y2: q1 }, style: st },
          { type: "line", shape: { x1: px, y1: q3, x2: px, y2: hi }, style: st },
          { type: "rect", shape: { x: px - w / 2, y: q3, width: w, height: q1 - q3 }, style: st },
          { type: "line", shape: { x1: px - w / 2, y1: med, x2: px + w / 2, y2: med }, style: st },
        ],
      };
    },
  };
}

const dots = (i: number, data: number[][], color: string) => ({
  type: "scatter", xAxisIndex: i, yAxisIndex: i, data, symbolSize: 5.8, silent: true, z: 5, clip: false,
  itemStyle: { color, opacity: 1 },
});
const pairs = (i: number, from: number[][], to: number[][], idx: number[][]) =>
  idx.map(([a, b]) => ({
    type: "line", xAxisIndex: i, yAxisIndex: i, data: [from[a], to[b]], symbol: "none", silent: true, z: 4,
    lineStyle: { color: GREY_DASH, width: 1.4, type: [12, 9] },
  }));
const sig = (i: number, x1: number, x2: number, y: number, width = 1.6) => ({
  type: "line", xAxisIndex: i, yAxisIndex: i, data: [[x1, y], [x2, y]], symbol: "none", silent: true, z: 6,
  lineStyle: { color: "#333", width },
});

// Stacked bars on a numeric Cluster ID axis: each layer starts where the previous one ended.
function stackLayers(i: number, layers: [string, number[], string][]) {
  const running = clusterIds.map(() => 0);
  return layers.map(([name, vals, color]) => {
    const data = clusterIds.map((id, k) => {
      const base = running[k];
      running[k] += vals[k];
      return [id, base, running[k]];
    });
    return {
      type: "custom", name, xAxisIndex: i, yAxisIndex: i, silent: true, z: 3,
      itemStyle: { color },
      encode: { x: 0, y: [1, 2] },
      data,
      renderItem: (_p: any, api: any) => {
        const a = api.coord([api.value(0), api.value(1)]);
        const b = api.coord([api.value(0), api.value(2)]);
        if (a[1] - b[1] < 0.01) return { type: "group", children: [] };
        return { type: "rect", shape: { x: a[0] - 3.25, y: b[1], width: 6.5, height: a[1] - b[1] }, style: { fill: color } };
      },
    };
  });
}

function buildOption() {
  const pad = { show: true, borderColor: "#c4c4c4", borderWidth: 2, backgroundColor: "#fff" };
  const box = { show: true, borderColor: "#555", borderWidth: 2, backgroundColor: "#fff" };
  const grid = [
    { left: 58.7, top: 64, width: 313.3, height: 244, ...pad },
    { left: 484.7, top: 63.3, width: 320.6, height: 244, ...pad },
    { left: 953.5, top: 71, width: 172.5, height: 236.7, ...pad },
    { left: 1237, top: 68.3, width: 172, height: 236.7, ...pad },
    { left: 1259.3, top: 461, width: 150.7, height: 151.7, ...box },
    { left: 1257.3, top: 699.3, width: 150.7, height: 150.7, ...box },
    { left: 0, top: 0, width: 1422, height: 922, show: false },
  ];
  const A = panelAxes(0, 0.577, 4.52, 1.0113, 1.2124, aXTicks, aXLabelPos, groupLabels, aYTicks, 2, 19, 0.001);
  const B = panelAxes(1, 0.546, 4.588, 0.7311, 0.9261, bXTicks, bXLabelPos, groupLabels, bYTicks, 2, 19, 0.0016);
  const F = panelAxes(2, 0.404, 2.615, 2.5885, 3.5527, fXTicks, fXLabelPos, strainLabels, fYTicks, 1, 18, 0.012, 8);
  const G = panelAxes(3, 0.389, 2.605, 0.7486, 0.8582, gXTicks, gXLabelPos, strainLabels, gYTicks, 3, 18, 0.0023);
  const eNames = eXTicks.map(String);
  const E1 = panelAxes(4, -0.34, 21.45, -6.7, 145.5, eXTicks, eXLabelPos, eNames, eYTicks, 0, 16.5);
  const E2 = panelAxes(5, -0.34, 21.34, -6, 145, eXTicks, eXLabelPos, eNames, eYTicks, 0, 16.5);
  [E1, E2].forEach((e) => {
    (e.y.axisLabel as any).fontSize = 16.5;
    (e.y.axisLabel as any).color = "#333";
    (e.x.axisLabel as any).margin = 5;
  });
  const xAxis: any[] = [A.x, B.x, F.x, G.x, E1.x, E2.x, { type: "value", gridIndex: 6, min: 0, max: 1422, show: false }];
  const yAxis: any[] = [A.y, B.y, F.y, G.y, E1.y, E2.y, { type: "value", gridIndex: 6, min: 0, max: 922, inverse: true, show: false }];

  const netStyle = { color: "#919191", width: 0.65, opacity: 1, curveness: 0 };
  const net = (n: any) => ({
    type: "graph", coordinateSystem: "cartesian2d", xAxisIndex: 6, yAxisIndex: 6, layout: "none", silent: true, z: 2,
    data: n.data, links: n.links, lineStyle: netStyle, label: { show: false }, edgeSymbol: ["none", "none"],
    emphasis: { disabled: true },
  });

  const series: any[] = [
    gridLines(0, aYLines, aXTicks, 3, 2.67),
    gridLines(1, bYLines, bXTicks, 1.2),
    gridLines(2, fYLines, fXTicks, 1.2),
    gridLines(3, gYLines, gXTicks, 1.2),
    boxSeries(0, aBoxes, [RED, RED, NAVY, NAVY], 40),
    boxSeries(1, bBoxes, [RED, RED, NAVY, NAVY], 40),
    boxSeries(2, fBoxes, [RED, NAVY], 40),
    boxSeries(3, gBoxes, [RED, NAVY], 40),
    ...pairs(0, aB6IgA, aB6IgG, aPairsB6),
    ...pairs(0, aIStIgA, aIStIgG, aPairsISt),
    ...pairs(1, bB6IgA, bB6IgG, bPairsB6),
    ...pairs(1, bIStIgA, bIStIgG, bPairsISt),
    dots(0, aB6IgA, RED), dots(0, aB6IgG, RED), dots(0, aIStIgA, NAVY), dots(0, aIStIgG, NAVY),
    dots(1, bB6IgA, RED), dots(1, bB6IgG, RED), dots(1, bIStIgA, NAVY), dots(1, bIStIgG, NAVY),
    dots(2, fB6, RED), dots(2, fISt, NAVY),
    dots(3, gB6, RED), dots(3, gISt, NAVY),
    sig(0, 1, 3.113, 1.163), sig(0, 2, 4.113, 1.1308),
    sig(1, 1, 3.118, 0.7808), sig(1, 2, 4.118, 0.761),
    sig(2, 1.083, 2.046, 3.477), sig(3, 1, 1.949, 0.8494),
    ...stackLayers(4, [["Other", b6Other, "#c4c4c4"], ["IGHM", b6IGHM, COL.m], ["IGHG", b6IGHG, COL.o], ["IGHA", b6IGHA, COL.a]]),
    ...stackLayers(5, [["IGHM", istIGHM, COL.m], ["IGHG", istIGHG, COL.o], ["IGHA", istIGHA, COL.a]]),
    net(buildNetwork(b6Clusters)),
    net(buildNetwork(istClusters)),
  ];

  const T = "#222";
  const elements: any[] = [
    txt("A", 11, 15, 28, { weight: "bold", fill: "#111" }),
    txt("B", 439, 15, 28, { weight: "bold", fill: "#111" }),
    txt("F", 921, 15, 28, { weight: "bold", fill: "#111" }),
    txt("G", 1187, 15, 28, { weight: "bold", fill: "#111" }),
    txt("C", 12, 408, 28, { weight: "bold", fill: "#111" }),
    txt("D", 673, 408, 28, { weight: "bold", fill: "#111" }),
    txt("E", 1217, 408, 28, { weight: "bold", fill: "#111" }),
    txt("Clonotype analysis", 427, 44, 26, { fill: T }),
    txt("Cluster analysis", 1182, 44, 26, { fill: T }),
    txt("ntCDR3 variants  per aa", 11, 190, 17, { rot: true, fill: T }),
    txt("Normalized", 415, 171, 17, { rot: true, fill: T }),
    txt("Shannon-Wiener", 433, 178, 17, { rot: true, fill: T }),
    txt("Number of non-single", 882, 185, 17, { rot: true, fill: T }),
    txt("clonotypes", 905, 172, 17, { rot: true, fill: T }),
    txt("Normalized", 1151, 190, 17, { rot: true, fill: T }),
    txt("Shannon-Wiener  index", 1172, 187, 17, { rot: true, fill: T }),
    txt("B6", 131, 355, 18),
    txt("I/St", 302, 355, 18),
    txt("B6", 567, 355, 18),
    txt("I/St", 738, 355, 18),
    rule(92, 339, 175.7, 339),
    rule(260, 339, 343.7, 339),
    rule(522, 340, 605.5, 340),
    rule(690, 340, 773.5, 340),
    txt("***", 175, 116, 18, { fill: "#222" }),
    txt("ns", 263, 154, 20),
    txt("ns", 609, 236, 20),
    txt("ns", 688, 261, 20),
    txt("*", 1043, 82, 22),
    txt("ns", 1326, 78, 24),
    txt("B6 mice", 91, 444, 28, { fill: T }),
    txt("I/St mice", 767, 444, 28, { fill: T }),
    txt("B6 mice", 1333, 442, 27, { fill: T }),
    txt("I/St mice", 1333, 681, 27, { fill: T }),
    txt("Cluster size", 1217, 558, 17, { rot: true, fill: "#333" }),
    txt("Cluster size", 1216, 802, 17, { rot: true, fill: "#333" }),
    txt("Cluster ID", 1335, 646, 17, { fill: "#333" }),
    txt("Cluster ID", 1335, 883, 17, { fill: "#333" }),
    ...b6Labels.map(([s, x, y]) => txt(s, x, y, 17, { fill: "#111" })),
    ...istLabels.map(([s, x, y]) => txt(s, x, y, 17, { fill: "#111" })),
    ...legendRow.flatMap(([s, c, cx, cy, tx, ty]) => [
      { type: "circle", silent: true, z: 20, shape: { cx, cy, r: 6.2 }, style: { fill: COL[c] } },
      txt(s, tx, ty, 21, { align: "left", fill: "#111" }),
    ]),
  ];

  return {
    animation: false,
    backgroundColor: "#fff",
    grid,
    xAxis,
    yAxis,
    series,
    legend: {
      data: ["IGHA", "IGHG", "IGHM"], left: 1223, top: 902, padding: 0,
      itemWidth: 19, itemHeight: 19, itemGap: 8, icon: "rect", selectedMode: false,
      textStyle: { fontFamily: "Noto Sans", fontSize: 13, color: "#222", padding: [0, 0, 0, 3] },
    },
    graphic: { elements },
  };
}

export default function App() {
  const ref = useRef<HTMLDivElement>(null);
  useEffect(() => {
    if (!ref.current) return;
    const chart = echarts.init(ref.current, undefined, { renderer: "svg" });
    chart.setOption(buildOption() as any);
    return () => chart.dispose();
  }, []);
  return <div ref={ref} style={{ position: "absolute", left: 0, top: 0, width: 1422, height: 922, background: "#fff" }} />;
}
